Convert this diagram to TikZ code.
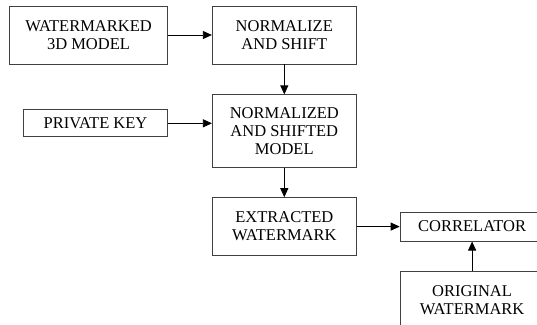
\documentclass[tikz,border=0pt]{standalone}
\usepackage{fontspec}
\setmainfont{Liberation Serif}
\usetikzlibrary{arrows.meta,positioning,calc}
\tikzset{
  box/.style={draw=black!75, line width=0.8pt, align=center, inner sep=0pt, minimum width=144pt, font=\fontsize{16.5}{18}\selectfont},
  arrow/.style={-{Triangle[length=9pt,width=8pt]}, line width=0.8pt}
}

\begin{document}
\begin{tikzpicture}[node distance=30pt and 44pt]
  \useasboundingbox (0,0) rectangle (537pt,-324pt);
  \node[box, minimum width=158pt, minimum height=58pt] (wm3d) at (88.5pt,-35pt) {WATERMARKED\\3D MODEL};
  \node[box, minimum height=58pt, right=44pt of wm3d] (norm) {NORMALIZE\\AND SHIFT};
  \node[box, minimum height=73pt, below=30pt of norm] (nsm) {NORMALIZED\\AND SHIFTED\\MODEL};
  \node[box, minimum height=27pt, left=44pt of nsm.west, yshift=8pt] (key) {PRIVATE KEY};
  \node[box, minimum height=58pt, below=29pt of nsm] (ext) {EXTRACTED\\WATERMARK};
  \node[box, minimum height=29pt, right=43pt of ext] (corr) {CORRELATOR};
  \node[box, minimum height=58pt, below=29pt of corr] (orig) {ORIGINAL\\WATERMARK};

  \draw[arrow] (wm3d) -- (norm);
  \draw[arrow] (norm) -- (nsm);
  \draw[arrow] (key) -- (key -| nsm.west);
  \draw[arrow] (nsm) -- (ext);
  \draw[arrow] (ext) -- (corr);
  \draw[arrow] (orig) -- (corr);
\end{tikzpicture}
\end{document}
